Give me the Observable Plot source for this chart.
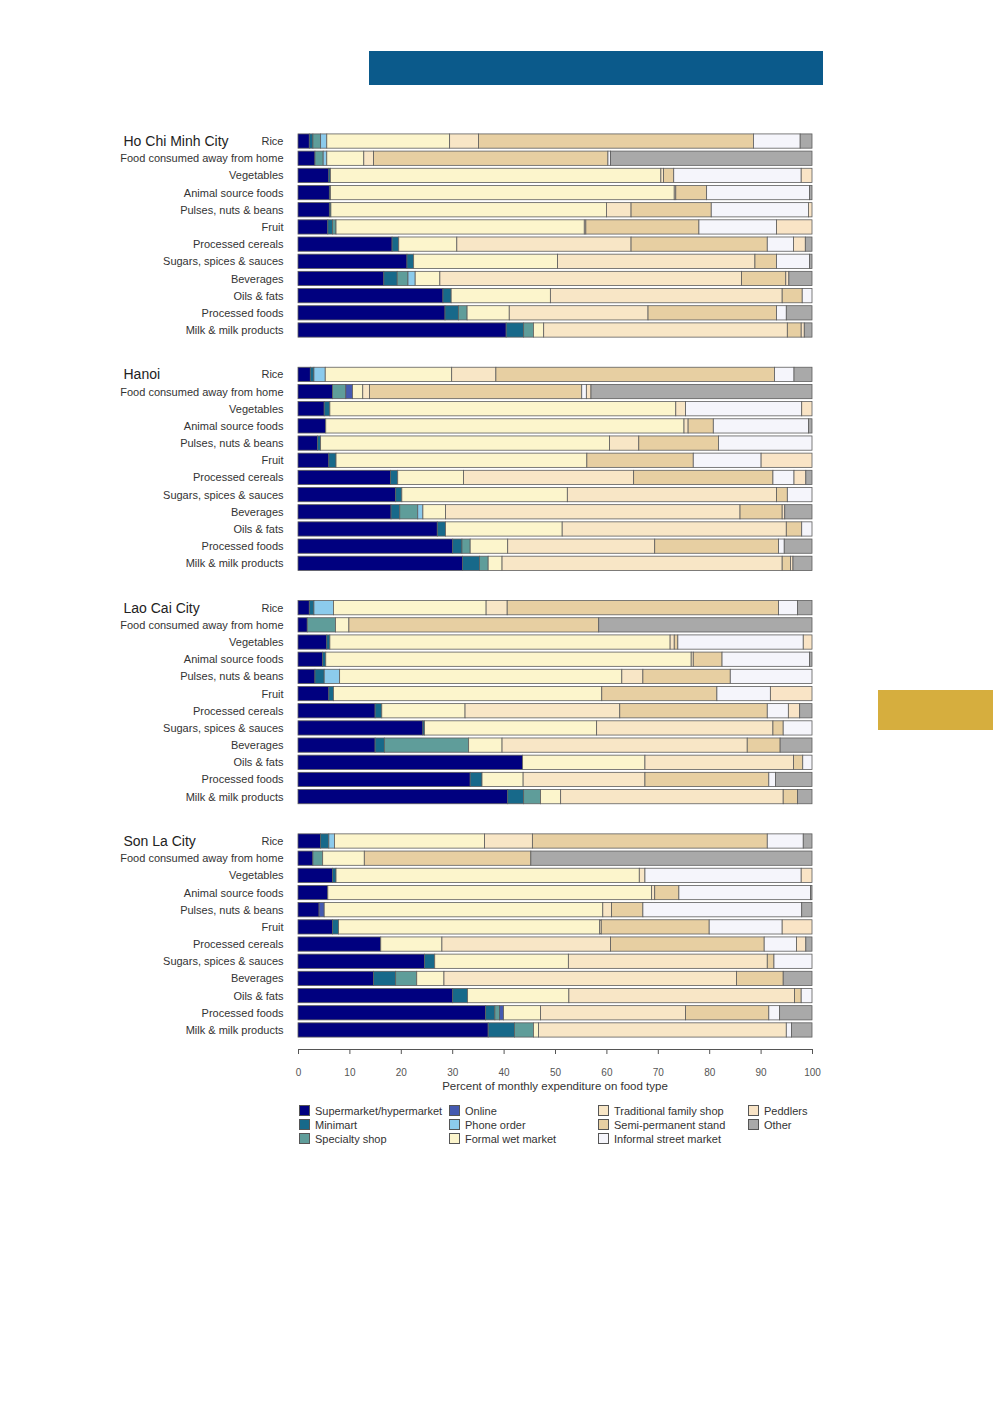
<!DOCTYPE html>
<html>
<head>
<meta charset="utf-8">
<script src="https://cdn.jsdelivr.net/npm/d3@7"></script>
<script src="https://cdn.jsdelivr.net/npm/@observablehq/plot@0.6"></script>
<style>
  html, body { margin: 0; padding: 0; background: #fff; }
  body { width: 993px; height: 1418px; position: relative; overflow: hidden; font-family: "Liberation Sans", Arial, sans-serif; }
  #header { position: absolute; left: 369px; top: 51px; width: 454px; height: 34px; background: #0b5a8b; }
  #tab { position: absolute; left: 878px; top: 690px; width: 115px; height: 40px; background: #d6ae3e; }
  #chart { position: absolute; left: 0; top: 0; }
  #xtitle { position: absolute; top: 1080px; left: 298px; width: 514px; text-align: center; font-size: 11.5px; color: #333; }
  #legend { position: absolute; top: 1105px; left: 0; width: 993px; height: 50px; }
  .item { position: absolute; font-size: 11px; color: #333; line-height: 13px; white-space: nowrap; }
  .sw { display: inline-block; width: 9px; height: 9px; border: 1px solid #555; vertical-align: -1px; margin-right: 5px; }
</style>
</head>
<body>
<div id="header"></div>
<div id="tab"></div>
<div id="chart"></div>
<div id="xtitle">Percent of monthly expenditure on food type</div>
<div id="legend"></div>
<script>
const cities = ["Ho Chi Minh City", "Hanoi", "Lao Cai City", "Son La City"];
const foods = ["Rice", "Food consumed away from home", "Vegetables", "Animal source foods",
  "Pulses, nuts & beans", "Fruit", "Processed cereals", "Sugars, spices & sauces",
  "Beverages", "Oils & fats", "Processed foods", "Milk & milk products"];
const outlets = ["Supermarket/hypermarket", "Minimart", "Specialty shop", "Online", "Phone order",
  "Formal wet market", "Traditional family shop", "Semi-permanent stand", "Informal street market",
  "Peddlers", "Other"];
const outletColors = ["#00007f", "#17698a", "#5f9d9a", "#4459b0", "#8ccbec",
  "#fcf5cc", "#f8e6c6", "#e7cfa2", "#f5f5fb", "#f9e4c6", "#a9a9a9"];
const xTicks = [0, 10, 20, 30, 40, 50, 60, 70, 80, 90, 100];

// percent of spending per outlet (order of outlets), one row per food
const hoChiMinhCity = [
  [2.2, 0.7, 1.5, 0, 1.2, 23.9, 5.6, 53.5, 9.1, 0, 2.3],
  [3.3, 0, 1.6, 0, 0.7, 7.2, 1.9, 45.6, 0.5, 0, 39.2],
  [6.0, 0.3, 0, 0, 0, 64.3, 0.5, 2.0, 24.8, 2.1, 0],
  [6.1, 0.2, 0, 0, 0, 66.9, 0.3, 6.0, 20.0, 0, 0.5],
  [6.1, 0.3, 0, 0, 0, 53.6, 4.8, 15.6, 18.9, 0.7, 0],
  [5.8, 0.9, 0.7, 0, 0, 48.3, 0.3, 22.0, 15.1, 6.9, 0],
  [18.3, 1.3, 0, 0, 0, 11.3, 33.9, 26.5, 5.1, 2.3, 1.3],
  [21.2, 1.3, 0, 0, 0, 28.0, 38.4, 4.2, 6.4, 0, 0.5],
  [16.7, 2.6, 2.1, 0, 1.4, 4.8, 58.7, 8.6, 0, 0.6, 4.5],
  [28.2, 1.6, 0, 0, 0, 19.3, 45.1, 3.9, 1.9, 0, 0],
  [28.6, 2.6, 1.7, 0, 0, 8.2, 27.0, 25.0, 1.9, 0, 5.0],
  [40.5, 3.4, 1.9, 0, 0, 2.0, 47.4, 2.7, 0, 0.6, 1.5]
];
const hanoi = [
  [2.4, 0.7, 0, 0, 2.2, 24.6, 8.6, 54.2, 3.8, 0, 3.5],
  [6.7, 0, 2.6, 1.3, 0, 2.0, 1.3, 41.3, 0.9, 0.9, 43.0],
  [5.1, 1.1, 0, 0, 0, 67.3, 1.9, 0, 22.6, 2.0, 0],
  [5.4, 0, 0, 0, 0, 69.7, 0.8, 4.9, 18.5, 0, 0.7],
  [3.8, 0.6, 0, 0, 0, 56.2, 5.7, 15.5, 18.2, 0, 0],
  [6.0, 1.4, 0, 0, 0, 48.8, 0, 20.7, 13.2, 9.9, 0],
  [18.0, 1.4, 0, 0, 0, 12.8, 33.1, 27.1, 4.1, 2.3, 1.2],
  [19.0, 1.2, 0, 0, 0, 32.2, 40.7, 2.1, 4.8, 0, 0],
  [18.1, 1.7, 3.5, 0, 1.0, 4.4, 57.3, 8.2, 0, 0.5, 5.3],
  [27.1, 1.6, 0, 0, 0, 22.7, 43.6, 3.0, 2.0, 0, 0],
  [30.1, 1.8, 1.6, 0, 0, 7.3, 28.6, 24.1, 1.1, 0, 5.4],
  [32.0, 3.3, 1.7, 0, 0, 2.7, 54.5, 1.6, 0, 0.5, 3.7]
];
const laoCaiCity = [
  [2.2, 0.9, 0, 0, 3.8, 29.7, 4.1, 52.8, 3.7, 0, 2.8],
  [1.8, 0, 5.5, 0, 0, 2.6, 0, 48.6, 0, 0, 41.5],
  [5.6, 0.6, 0, 0, 0, 66.2, 0.8, 0.7, 24.4, 1.7, 0],
  [4.8, 0.6, 0, 0, 0, 71.1, 0.4, 5.6, 17.0, 0, 0.5],
  [3.3, 1.8, 0, 0, 3.0, 54.9, 4.1, 17.0, 15.9, 0, 0],
  [6.0, 0.9, 0, 0, 0, 52.2, 0, 22.4, 10.4, 8.1, 0],
  [15.0, 1.3, 0, 0, 0, 16.2, 30.1, 28.7, 4.1, 2.2, 2.4],
  [24.3, 0.3, 0, 0, 0, 33.5, 34.3, 2.0, 5.6, 0, 0],
  [15.0, 1.8, 16.4, 0, 0, 6.5, 47.7, 6.4, 0, 0, 6.2],
  [43.7, 0, 0, 0, 0, 23.8, 28.9, 1.8, 1.8, 0, 0],
  [33.5, 2.3, 0, 0, 0, 8.0, 23.7, 24.1, 1.3, 0, 7.1],
  [40.8, 3.1, 3.3, 0, 0, 3.9, 43.3, 2.8, 0, 0, 2.8]
];
const sonLaCity = [
  [4.4, 1.6, 0, 0, 1.1, 29.2, 9.3, 45.7, 7.0, 0, 1.7],
  [2.9, 0, 1.9, 0, 0, 8.1, 0, 32.4, 0, 0, 54.7],
  [6.7, 0.7, 0, 0, 0, 59.0, 1.1, 0, 30.4, 2.1, 0],
  [5.8, 0, 0, 0, 0, 63.0, 0.6, 4.7, 25.6, 0, 0.3],
  [4.1, 0, 0, 1.0, 0, 54.2, 1.7, 6.1, 30.9, 0, 2.0],
  [6.7, 1.2, 0, 0, 0, 50.8, 0.3, 21.0, 14.2, 5.8, 0],
  [16.1, 0, 0, 0, 0, 11.9, 32.8, 29.9, 6.3, 1.8, 1.2],
  [24.6, 2.0, 0, 0, 0, 26.0, 38.7, 1.3, 7.4, 0, 0],
  [14.7, 4.3, 4.1, 0, 0, 5.3, 56.9, 9.1, 0, 0, 5.6],
  [30.1, 2.9, 0, 0, 0, 19.7, 43.9, 1.3, 2.1, 0, 0],
  [36.5, 1.8, 0.9, 0.8, 0, 7.2, 28.2, 16.2, 2.1, 0, 6.3],
  [37.0, 5.1, 3.7, 0, 0, 1.0, 48.2, 0, 1.0, 0, 4.0]
];

const cityTables = [hoChiMinhCity, hanoi, laoCaiCity, sonLaCity];
const rows = [];
cityTables.forEach((table, ci) => {
  table.forEach((vals, fi) => {
    vals.forEach((v, oi) => {
      if (v > 0) rows.push({city: cities[ci], food: foods[fi], outlet: outlets[oi], value: v});
    });
  });
});
const cityLabels = cities.map(c => ({city: c, food: foods[0]}));

const font = '"Liberation Sans", Arial, sans-serif';
const chart = Plot.plot({
  width: 993,
  height: 1100,
  marginLeft: 298,
  marginRight: 181,
  marginTop: 131,
  marginBottom: 60,
  style: {fontFamily: font, fontSize: "11px", color: "#333", background: "transparent"},
  x: {domain: [0, 100], axis: null},
  y: {domain: foods, paddingInner: 0.17, paddingOuter: 0.17, round: false, axis: null},
  fy: {domain: cities, paddingInner: 0.104, paddingOuter: 0, round: false, axis: null},
  color: {domain: outlets, range: outletColors},
  marks: [
    Plot.barX(rows, {x: "value", y: "food", fy: "city", fill: "outlet", stroke: "#5d5d5d", strokeWidth: 0.8}),
    Plot.axisY({tickSize: 0, tickPadding: 15, fontSize: 11, fill: "#333", label: null}),
    Plot.text(cityLabels, {fy: "city", y: "food", text: "city", frameAnchor: "left", dx: -175, textAnchor: "start", fontSize: 14, fill: "#222"}),
    Plot.axisX({ticks: xTicks, tickSize: 5, tickPadding: 14, dy: 9, fontSize: 10, stroke: "#555", fill: "#555", label: null}),
    Plot.frame({anchor: "bottom", facetAnchor: "bottom", dy: 9, stroke: "#555"})
  ]
});
document.getElementById("chart").appendChild(chart);

// legend (column-major, three rows)
const colX = [299, 449, 598, 748];
const legend = document.getElementById("legend");
outlets.forEach((name, i) => {
  const col = Math.floor(i / 3), row = i % 3;
  const div = document.createElement("div");
  div.className = "item";
  div.style.left = colX[col] + "px";
  div.style.top = (row * 14) + "px";
  const sw = document.createElement("span");
  sw.className = "sw";
  sw.style.background = outletColors[i];
  div.appendChild(sw);
  div.appendChild(document.createTextNode(name));
  legend.appendChild(div);
});
</script>
</body>
</html>
